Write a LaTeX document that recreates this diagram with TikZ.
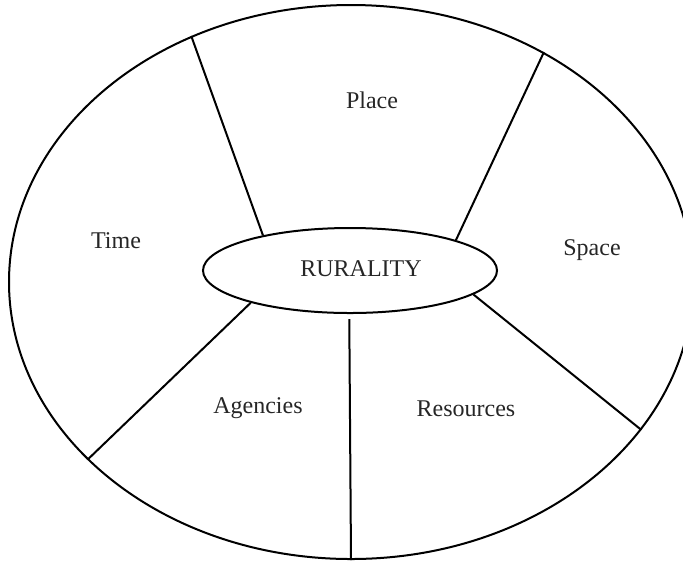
\documentclass[tikz,border=0pt]{standalone}
\usepackage{fontspec}
\setmainfont{Liberation Serif}
\usetikzlibrary{shapes.geometric, positioning}

\begin{document}
\begin{tikzpicture}[
    x=0.5pt, y=-0.5pt,
    ring/.style={draw, ellipse, line width=1pt, inner sep=0pt},
    spoke/.style={line width=1pt},
    label/.style={font=\fontsize{12}{14}\selectfont, text=black!85},
]
\useasboundingbox (0,0) rectangle (683,563);

% Ellipses
\node[ring, minimum width=342pt, minimum height=277pt] (outer) at (351,282) {};
\node[ring, label, minimum width=147pt, minimum height=42.5pt] (rur) at (350,270.5) {};
\node[label] (rurtext) at (361,268.5) {RURALITY};

% Sector labels
\node[label] (place) at (372,100) {Place};
\node[label] (space) at (592,250) {Space};
\node[label] (resources) at (466,409) {Resources};
\node[label] (agencies) at (258,408) {Agencies};
\node[label] (time) at (116,241) {Time};

% Spokes
\draw[spoke] (rur.158.8) -- (outer.123.5);
\draw[spoke] (rur.16.2) -- (outer.50.3);
\draw[spoke] (rur.-11.7) -- (outer.-27.7);
\draw[spoke, shorten <=2.5pt] (rur.-91.5) -- (outer.-90.5);
\draw[spoke] (rur.198.2) -- (outer.214);

\end{tikzpicture}
\end{document}
